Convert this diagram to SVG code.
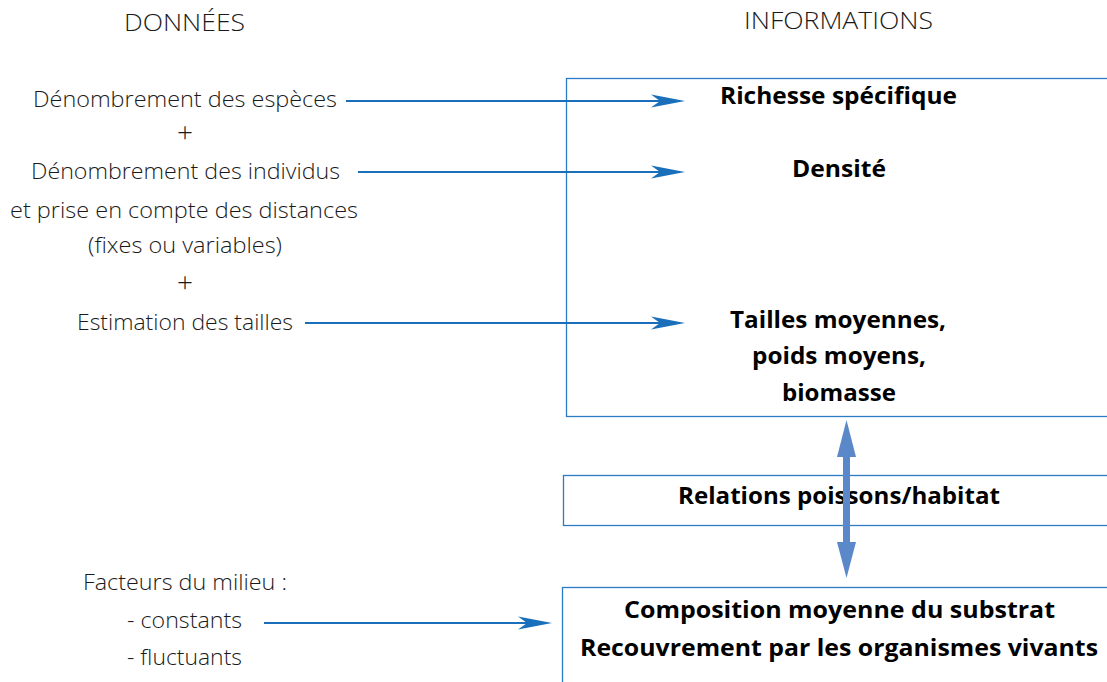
<svg xmlns="http://www.w3.org/2000/svg" width="1107" height="682" viewBox="0 0 1107 682">
<defs>
<style>
.lt{font-family:"Open Sans",Lato,"DejaVu Sans",sans-serif;font-weight:300;font-size:22px;fill:#1a1a1a}
.pl{font-family:"Open Sans",Lato,"DejaVu Sans",sans-serif;font-weight:300;font-size:28px;fill:#1a1a1a}
.hd{font-family:"Open Sans",Lato,"DejaVu Sans",sans-serif;font-weight:300;font-size:23px;fill:#1a1a1a}
.bd{font-family:"Open Sans",Lato,"DejaVu Sans",sans-serif;font-weight:700;font-size:23px;fill:#000}
.box{fill:#fff;stroke:#2b7cc4;stroke-width:1.3}
.arr{stroke:#1a6fba;stroke-width:2;fill:none}
.ah{fill:#1a6fba}
</style>
</defs>
<rect width="1107" height="682" fill="#fff"/>
<g id="headers">
<text class="hd" x="124" y="31" textLength="121" lengthAdjust="spacingAndGlyphs">DONNÉES</text>
<text class="hd" x="744" y="29" textLength="189" lengthAdjust="spacingAndGlyphs">INFORMATIONS</text>
</g>
<g id="donnees">
<text class="lt" x="33" y="107" textLength="304" lengthAdjust="spacingAndGlyphs">Dénombrement des espèces</text>
<text class="pl" x="185" y="142" text-anchor="middle">+</text>
<text class="lt" x="31" y="179" textLength="309" lengthAdjust="spacingAndGlyphs">Dénombrement des individus</text>
<text class="lt" x="10" y="218" textLength="348" lengthAdjust="spacingAndGlyphs">et prise en compte des distances</text>
<text class="lt" x="88" y="253" textLength="194" lengthAdjust="spacingAndGlyphs">(fixes ou variables)</text>
<text class="pl" x="185" y="292" text-anchor="middle">+</text>
<text class="lt" x="77" y="330" textLength="216" lengthAdjust="spacingAndGlyphs">Estimation des tailles</text>
</g>
<g id="facteurs">
<text class="lt" x="83" y="590" textLength="204" lengthAdjust="spacingAndGlyphs">Facteurs du milieu :</text>
<text class="lt" x="127" y="628" textLength="115" lengthAdjust="spacingAndGlyphs">- constants</text>
<text class="lt" x="127" y="665" textLength="115" lengthAdjust="spacingAndGlyphs">- fluctuants</text>
</g>
<g id="informations">
<rect class="box" x="566.5" y="78.5" width="560" height="338"/>
<text class="bd" x="720" y="104" textLength="237" lengthAdjust="spacingAndGlyphs">Richesse spécifique</text>
<text class="bd" x="792" y="177" textLength="94" lengthAdjust="spacingAndGlyphs">Densité</text>
<text class="bd" x="730" y="328" textLength="216" lengthAdjust="spacingAndGlyphs">Tailles moyennes,</text>
<text class="bd" x="752" y="364" textLength="174" lengthAdjust="spacingAndGlyphs">poids moyens,</text>
<text class="bd" x="782" y="401" textLength="114" lengthAdjust="spacingAndGlyphs">biomasse</text>
</g>
<g id="relations">
<rect class="box" x="563.5" y="475.5" width="560" height="50"/>
<text class="bd" x="678" y="504" textLength="322" lengthAdjust="spacingAndGlyphs">Relations poissons/habitat</text>
</g>
<g id="substrat">
<rect class="box" x="562.5" y="587.5" width="560" height="120"/>
<text class="bd" x="624" y="618" textLength="431" lengthAdjust="spacingAndGlyphs">Composition moyenne du substrat</text>
<text class="bd" x="580" y="656" textLength="518" lengthAdjust="spacingAndGlyphs">Recouvrement par les organismes vivants</text>
</g>
<g id="connectors">
<line class="arr" x1="346" y1="101" x2="670" y2="101"/>
<path class="ah" d="M685,101 L651,94.5 L660,101 L651,107.5 Z"/>
<line class="arr" x1="358" y1="172" x2="670" y2="172"/>
<path class="ah" d="M685,172 L651,165.5 L660,172 L651,178.5 Z"/>
<line class="arr" x1="305" y1="323" x2="670" y2="323"/>
<path class="ah" d="M685,323 L651,316.5 L660,323 L651,329.5 Z"/>
<line class="arr" x1="264" y1="623" x2="537" y2="623"/>
<path class="ah" d="M552,623 L518,616.5 L527,623 L518,629.5 Z"/>
<g fill="#5b88c8">
<rect x="843" y="450" width="7" height="100"/>
<path d="M846.5,420 L856,457 L837,457 Z"/>
<path d="M846.5,578 L856,542 L837,542 Z"/>
</g>
</g>
</svg>
